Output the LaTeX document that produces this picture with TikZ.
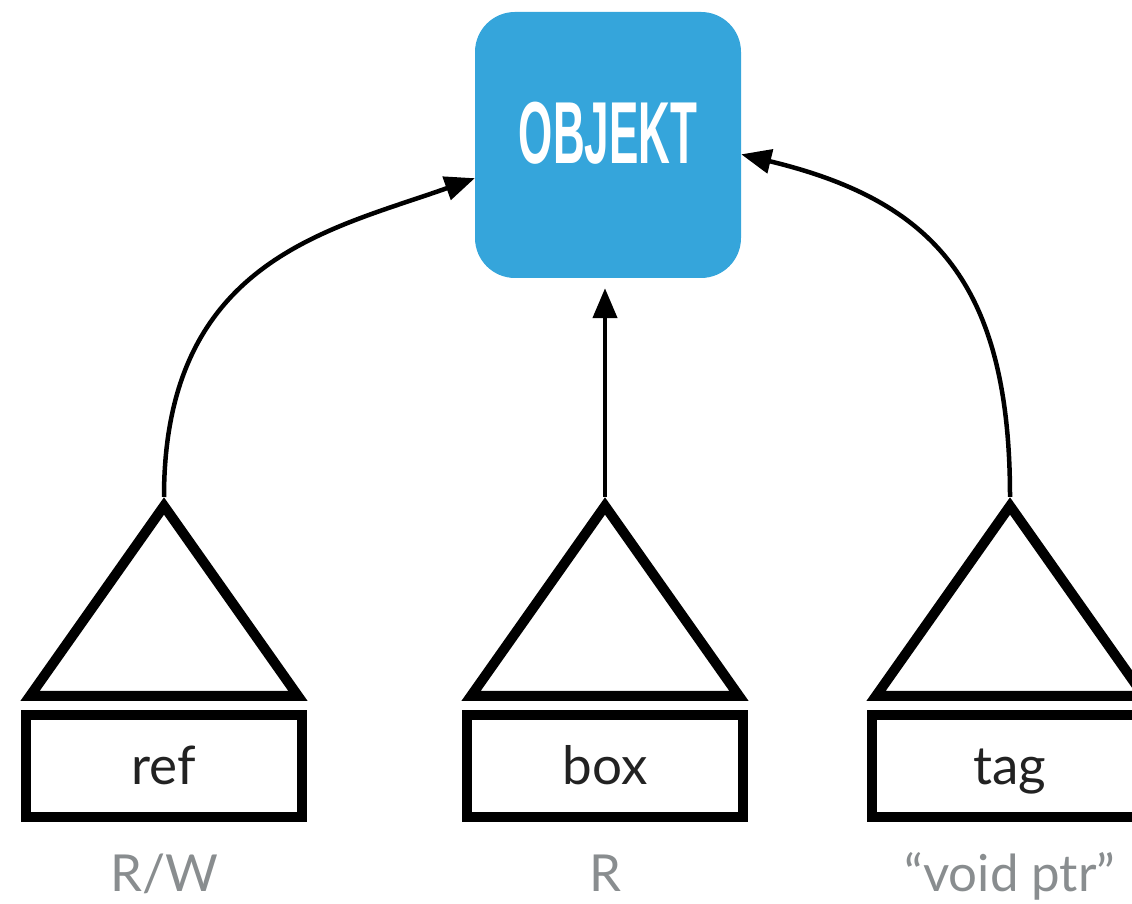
\documentclass[tikz,border=0pt]{standalone}
\usepackage{fontspec}
\setmainfont{Lato}
\newfontfamily\titlefont[FakeStretch=0.5]{Liberation Sans}
\usetikzlibrary{arrows.meta}

\definecolor{objblue}{HTML}{35A5DB}
\definecolor{labelgray}{HTML}{898D8F}
\definecolor{textdark}{HTML}{222222}

\tikzset{
  objbox/.style={fill=objblue, rounded corners=40pt, minimum width=266pt, minimum height=266pt},
  objname/.style={text=white, font=\titlefont\bfseries\fontsize{88}{88}\selectfont},
  field/.style={draw, line width=10pt, minimum width=276pt, minimum height=102pt, inner sep=0pt,
    text height=38pt, text depth=0pt, text=textdark, font=\fontsize{53}{53}\selectfont},
  access/.style={anchor=base, text=labelgray, font=\fontsize{51}{51}\selectfont},
  tri/.style={line width=10pt},
  pointer/.style={line width=4.5pt, -{Triangle[length=30pt,width=24pt]}}
}

\begin{document}
\begin{tikzpicture}[x=1pt, y=1pt]
    \useasboundingbox (0, 0) rectangle (1132, 904);
    \clip (0, 0) rectangle (1132, 904);

    \node[objbox](objekt) at (608, 759) {};
    \node[objname](objlabel) at (608, 771) {OBJEKT};

    % triangles
    \draw[tri] (164, 398) -- (30, 208) -- (298, 208) -- cycle;
    \draw[tri] (605, 398) -- (471, 208) -- (739, 208) -- cycle;
    \draw[tri] (1010, 398) -- (876, 208) -- (1144, 208) -- cycle;

    \coordinate (refTop) at (164, 407);
    \coordinate (boxTop) at (605, 407);
    \coordinate (tagTop) at (1010, 407);

    \node[field](ref) at (164, 138) {ref};
    \node[field](box) at (605, 138) {box};
    \node[field](tag) at (1010, 138) {tag};

    \node[access](refMode) at (164, 12) {R/W};
    \node[access](boxMode) at (605, 12) {R};
    \node[access](tagMode) at (1010, 12) {“void ptr”};

    \draw[pointer] (refTop) .. controls (164, 644) and (330, 674) .. (objekt.194);
    \draw[pointer, shorten >=10pt] (boxTop) -- (boxTop |- objekt.south);
    \draw[pointer] (tagTop) .. controls (1010, 624) and (930, 704) .. (objekt.-4);

  \end{tikzpicture}
\end{document}
